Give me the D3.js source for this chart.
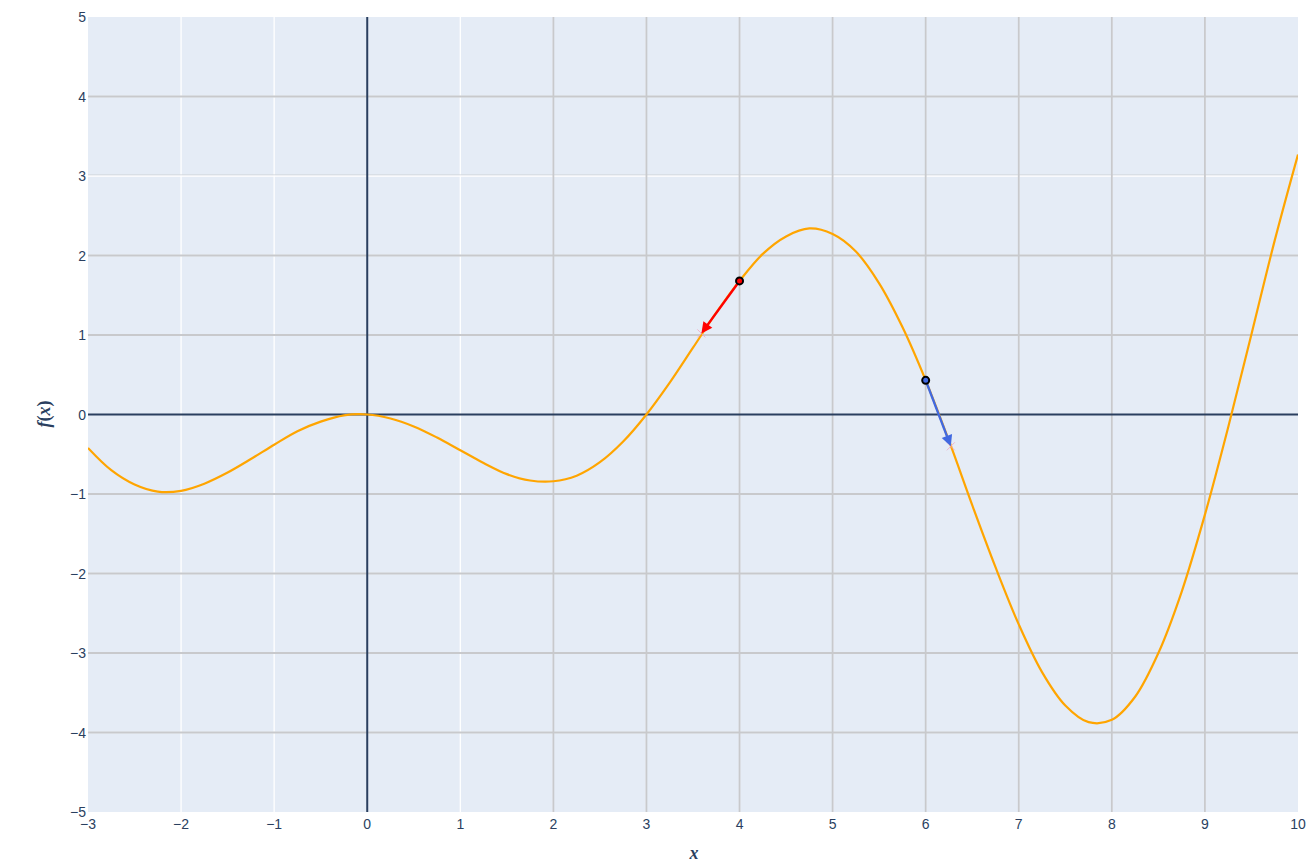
<!DOCTYPE html>
<html>
<head>
<meta charset="utf-8">
<script src="https://cdn.jsdelivr.net/npm/d3@7"></script>
<style>
  html, body { margin: 0; padding: 0; background: #fff; }
  svg { display: block; }
  .tick-label { font-family: "Liberation Sans", Arial, sans-serif; font-size: 14px; fill: #2a3f5f; }
  .axis-title { font-family: "Liberation Serif", "Times New Roman", serif; font-size: 18px; font-weight: bold; fill: #2a3f5f; }
</style>
</head>
<body>
<svg id="chart" width="1308" height="862"></svg>
<script>
// Sampled curve f(x)
const xValues = [-3, -2.75, -2.5, -2.25, -2, -1.75, -1.5, -1.25, -1, -0.75, -0.5, -0.25,
  0, 0.25, 0.5, 0.75, 1, 1.25, 1.5, 1.75, 2, 2.25, 2.5, 2.75,
  3, 3.25, 3.5, 3.75, 4, 4.25, 4.5, 4.75, 5, 5.25, 5.5, 5.75,
  6, 6.25, 6.5, 6.75, 7, 7.25, 7.5, 7.75, 8, 8.25, 8.5, 8.75,
  9, 9.25, 9.5, 9.75, 10];
const fValues = [-0.42, -0.70, -0.88, -0.97, -0.96, -0.87, -0.73, -0.56, -0.38, -0.21, -0.09, -0.01,
  0.00, -0.05, -0.15, -0.29, -0.45, -0.61, -0.75, -0.83, -0.84, -0.77, -0.60, -0.34,
  0.00, 0.40, 0.84, 1.28, 1.68, 2.02, 2.24, 2.34, 2.27, 2.05, 1.65, 1.10,
  0.43, -0.33, -1.14, -1.92, -2.64, -3.24, -3.66, -3.87, -3.84, -3.55, -3.00, -2.23,
  -1.26, -0.16, 1.01, 2.19, 3.27];

// Gradient steps: start point -> next point
const stepStarts = [[4, 1.68], [6, 0.43]];
const stepEnds = [[3.59, 1.02], [6.27, -0.40]];
const stepColors = ["#ff0000", "#4169e1"];

// Axis ticks
const xTicks = [-3, -2, -1, 0, 1, 2, 3, 4, 5, 6, 7, 8, 9, 10];
const yTicks = [-5, -4, -3, -2, -1, 0, 1, 2, 3, 4, 5];
// Darker grid lines layered over the white grid
const xGreyLines = [2, 3, 4, 5, 6, 7, 8, 9];
const yGreyLines = [-4, -3, -2, -1, 1, 2, 4];

const svg = d3.select("#chart");
const plotL = 88, plotR = 1298, plotT = 17, plotB = 812;

const x = d3.scaleLinear().domain([-3, 10]).range([plotL, plotR]);
const y = d3.scaleLinear().domain([-5, 5]).range([plotB, plotT]);

const fmt = v => (v < 0 ? "\u2212" + Math.abs(v) : String(v));

// Plot background
svg.append("rect")
  .attr("x", plotL).attr("y", plotT)
  .attr("width", plotR - plotL).attr("height", plotB - plotT)
  .attr("fill", "#e5ecf6");

const grid = svg.append("g");
grid.selectAll(".gx").data(xTicks.filter(v => v !== 0 && v !== -3 && v !== 10)).join("line")
  .attr("x1", d => x(d)).attr("x2", d => x(d))
  .attr("y1", plotT).attr("y2", plotB)
  .attr("stroke", "#ffffff").attr("stroke-width", 1.3);
grid.selectAll(".gy").data(yTicks.filter(v => v !== 0 && v !== -5 && v !== 5)).join("line")
  .attr("x1", plotL).attr("x2", plotR)
  .attr("y1", d => y(d)).attr("y2", d => y(d))
  .attr("stroke", "#ffffff").attr("stroke-width", 1.3);

// faint shadow along y = 3
grid.append("line")
  .attr("x1", plotL).attr("x2", plotR)
  .attr("y1", y(3) - 1.2).attr("y2", y(3) - 1.2)
  .attr("stroke", "#cfd3d9").attr("stroke-width", 0.8);

grid.selectAll(".ggx").data(xGreyLines).join("line")
  .attr("x1", d => x(d)).attr("x2", d => x(d))
  .attr("y1", plotT).attr("y2", plotB)
  .attr("stroke", "#c8c9cc").attr("stroke-width", 1.8);
grid.selectAll(".ggy").data(yGreyLines).join("line")
  .attr("x1", plotL).attr("x2", plotR)
  .attr("y1", d => y(d)).attr("y2", d => y(d))
  .attr("stroke", "#c8c9cc").attr("stroke-width", 1.8);

// Zero lines
svg.append("line")
  .attr("x1", x(0)).attr("x2", x(0)).attr("y1", plotT).attr("y2", plotB)
  .attr("stroke", "#2a3f5f").attr("stroke-width", 2);
svg.append("line")
  .attr("x1", plotL).attr("x2", plotR).attr("y1", y(0)).attr("y2", y(0))
  .attr("stroke", "#2a3f5f").attr("stroke-width", 2);

// Tick labels
svg.append("g").selectAll("text").data(xTicks).join("text")
  .attr("class", "tick-label")
  .attr("x", d => x(d)).attr("y", 829)
  .attr("text-anchor", "middle")
  .text(fmt);
svg.append("g").selectAll("text").data(yTicks).join("text")
  .attr("class", "tick-label")
  .attr("x", 86).attr("y", d => y(d) + 5.2)
  .attr("text-anchor", "end")
  .text(fmt);

// Curve
const curvePts = xValues.map((v, i) => [v, fValues[i]]);
const line = d3.line().x(d => x(d[0])).y(d => y(d[1])).curve(d3.curveCatmullRom.alpha(0.5));
const clip = svg.append("clipPath").attr("id", "plotClip");
clip.append("rect").attr("x", plotL).attr("y", plotT).attr("width", plotR - plotL).attr("height", plotB - plotT);
svg.append("path")
  .attr("clip-path", "url(#plotClip)")
  .attr("d", line(curvePts))
  .attr("fill", "none")
  .attr("stroke", "#ffa500")
  .attr("stroke-width", 2.2)
  .attr("stroke-linejoin", "round");

// Gradient step arrows
const arrows = svg.append("g");
stepStarts.forEach((s, i) => {
  const e = stepEnds[i];
  const x0 = x(s[0]), y0 = y(s[1]), x1 = x(e[0]), y1 = y(e[1]);
  const ang = Math.atan2(y1 - y0, x1 - x0);
  const headLen = 11, headHalf = 5.5;
  const bx = x1 - headLen * Math.cos(ang), by = y1 - headLen * Math.sin(ang);
  const px = -Math.sin(ang), py = Math.cos(ang);

  // small cross marking the next point
  const c = 4;
  arrows.append("path")
    .attr("d", `M${x1 - c},${y1 - c}L${x1 + c},${y1 + c}M${x1 - c},${y1 + c}L${x1 + c},${y1 - c}`)
    .attr("stroke", "#f2a7c3").attr("stroke-width", 1).attr("opacity", 0.8);

  arrows.append("line")
    .attr("x1", x0).attr("y1", y0).attr("x2", bx + 2 * Math.cos(ang)).attr("y2", by + 2 * Math.sin(ang))
    .attr("stroke", stepColors[i]).attr("stroke-width", 2.4);
  arrows.append("path")
    .attr("d", `M${x1},${y1}L${bx + headHalf * px},${by + headHalf * py}L${bx - headHalf * px},${by - headHalf * py}Z`)
    .attr("fill", stepColors[i]);

  arrows.append("circle")
    .attr("cx", x0).attr("cy", y0).attr("r", 3.5)
    .attr("fill", stepColors[i])
    .attr("stroke", "#000").attr("stroke-width", 2);
});

// Axis titles
svg.append("text")
  .attr("class", "axis-title")
  .attr("x", 694).attr("y", 859)
  .attr("text-anchor", "middle")
  .attr("font-style", "italic")
  .text("x");

const yt = svg.append("text")
  .attr("class", "axis-title")
  .attr("transform", "translate(50,414) rotate(-90)")
  .attr("text-anchor", "middle");
yt.append("tspan").attr("font-style", "italic").text("f");
yt.append("tspan").text("(");
yt.append("tspan").attr("font-style", "italic").text("x");
yt.append("tspan").text(")");
</script>
</body>
</html>
